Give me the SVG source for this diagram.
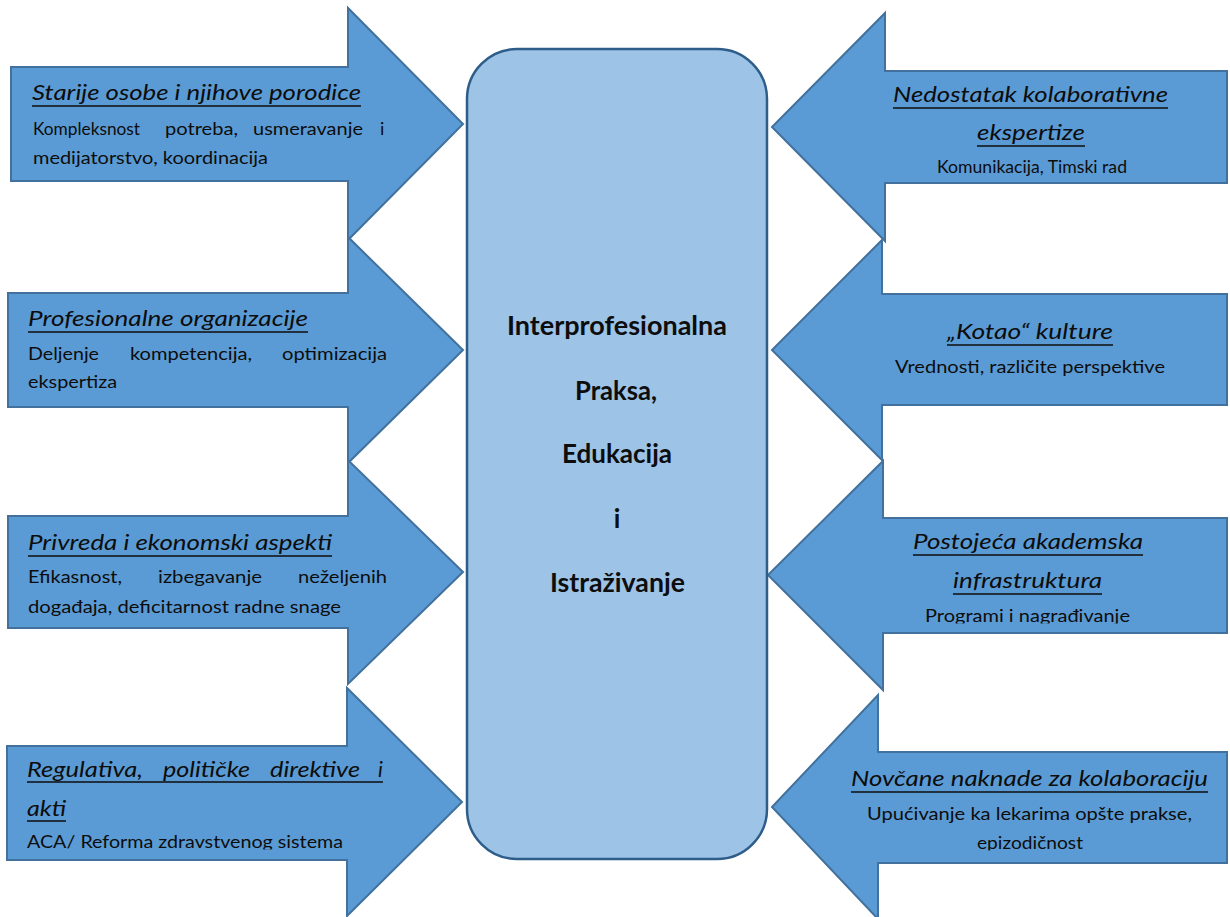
<svg xmlns="http://www.w3.org/2000/svg" width="1230" height="917" viewBox="0 0 1230 917">
<style>
.arrow{fill:#5B9BD5;stroke:#41719C;stroke-width:2;stroke-linejoin:miter}
.core{fill:#9DC3E6;stroke:#2E5D8A;stroke-width:2.5}
.t{font-family:Lato,"Liberation Sans",sans-serif;font-style:italic;font-size:21px;fill:#0D0D0D}
.b{font-family:Lato,"Liberation Sans",sans-serif;font-size:18px;fill:#0D0D0D}
.c{font-family:Lato,"Liberation Sans",sans-serif;font-weight:bold;font-size:26px;fill:#0D0D0D}
.u{stroke:#0D0D0D;stroke-width:1.5}
</style>
<defs>
<clipPath id="clipL4"><rect x="0" y="820" width="470" height="29.5"/></clipPath>
<clipPath id="clipR3"><rect x="780" y="600" width="450" height="23.5"/></clipPath>
<clipPath id="clipR4"><rect x="780" y="828" width="450" height="22.5"/></clipPath>
</defs>
<rect width="1230" height="917" fill="#FFFFFF"/>

<g id="connectors">
<polygon class="arrow" points="11,67 348,67 348,8 463,124 348,240 348,181 11,181"/>
<polygon class="arrow" points="8,293 348,293 348,237 463,350 348,463 348,407 8,407"/>
<polygon class="arrow" points="8,516 348,516 348,460 463,572 348,684 348,628 8,628"/>
<polygon class="arrow" points="7,746 347,746 347,688 462,802 347,916 347,860 7,860"/>
<polygon class="arrow" points="1227,71 885,71 885,13 772,127 885,241 885,183 1227,183"/>
<polygon class="arrow" points="1227,294 882,294 882,240 772,350 882,460 882,405 1227,405"/>
<polygon class="arrow" points="1227,518 883,518 883,461 768,575 883,690 883,633 1227,633"/>
<polygon class="arrow" points="1227,752 878,752 878,695 772,807 878,919 878,863 1227,863"/>
</g>

<g id="center">
<rect class="core" x="467" y="49" width="300" height="810" rx="50" ry="50"/>
<text class="c" x="507" y="335" textLength="220" lengthAdjust="spacingAndGlyphs">Interprofesionalna</text>
<text class="c" x="575" y="400" textLength="82" lengthAdjust="spacingAndGlyphs">Praksa,</text>
<text class="c" x="562" y="463" textLength="110" lengthAdjust="spacingAndGlyphs">Edukacija</text>
<text class="c" x="617" y="528" text-anchor="middle">i</text>
<text class="c" x="550" y="592" textLength="135" lengthAdjust="spacingAndGlyphs">Istraživanje</text>
</g>

<g id="left1">
<text class="t" x="32" y="100" textLength="329" lengthAdjust="spacingAndGlyphs">Starije osobe i njihove porodice</text>
<line class="u" x1="32" y1="106" x2="361" y2="106"/>
<text class="b" x="33" y="135" textLength="107" lengthAdjust="spacingAndGlyphs">Kompleksnost</text>
<text class="b" x="165" y="135" textLength="73" lengthAdjust="spacingAndGlyphs">potreba,</text>
<text class="b" x="253" y="135" textLength="110" lengthAdjust="spacingAndGlyphs">usmeravanje</text>
<text class="b" x="380" y="135">i</text>
<text class="b" x="33" y="164" textLength="235" lengthAdjust="spacingAndGlyphs">medijatorstvo, koordinacija</text>
</g>

<g id="left2">
<text class="t" x="28" y="326" textLength="280" lengthAdjust="spacingAndGlyphs">Profesionalne organizacije</text>
<line class="u" x1="28" y1="332" x2="308" y2="332"/>
<text class="b" x="28" y="360" textLength="71" lengthAdjust="spacingAndGlyphs">Deljenje</text>
<text class="b" x="130" y="360" textLength="122" lengthAdjust="spacingAndGlyphs">kompetencija,</text>
<text class="b" x="282" y="360" textLength="105" lengthAdjust="spacingAndGlyphs">optimizacija</text>
<text class="b" x="28" y="388" textLength="89" lengthAdjust="spacingAndGlyphs">ekspertiza</text>
</g>

<g id="left3">
<text class="t" x="28" y="550" textLength="304" lengthAdjust="spacingAndGlyphs">Privreda i ekonomski aspekti</text>
<line class="u" x1="28" y1="556" x2="332" y2="556"/>
<text class="b" x="28" y="583" textLength="94" lengthAdjust="spacingAndGlyphs">Efikasnost,</text>
<text class="b" x="158" y="583" textLength="104" lengthAdjust="spacingAndGlyphs">izbegavanje</text>
<text class="b" x="298" y="583" textLength="89" lengthAdjust="spacingAndGlyphs">neželjenih</text>
<text class="b" x="28" y="613" textLength="313" lengthAdjust="spacingAndGlyphs">događaja, deficitarnost radne snage</text>
</g>

<g id="left4">
<text class="t" x="27" y="777" textLength="116" lengthAdjust="spacingAndGlyphs">Regulativa,</text>
<text class="t" x="163" y="777" textLength="87" lengthAdjust="spacingAndGlyphs">političke</text>
<text class="t" x="270" y="777" textLength="90" lengthAdjust="spacingAndGlyphs">direktive</text>
<text class="t" x="378" y="777">i</text>
<line class="u" x1="27" y1="782" x2="383" y2="782"/>
<text class="t" x="27" y="816" textLength="39" lengthAdjust="spacingAndGlyphs">akti</text>
<line class="u" x1="27" y1="821" x2="66" y2="821"/>
<text class="b" x="27" y="848" textLength="316" lengthAdjust="spacingAndGlyphs" clip-path="url(#clipL4)">ACA/ Reforma zdravstvenog sistema</text>
</g>

<g id="right1">
<text class="t" x="893" y="102" textLength="275" lengthAdjust="spacingAndGlyphs">Nedostatak kolaborativne</text>
<line class="u" x1="893" y1="108" x2="1168" y2="108"/>
<text class="t" x="977" y="140" textLength="108" lengthAdjust="spacingAndGlyphs">ekspertize</text>
<line class="u" x1="977" y1="146" x2="1085" y2="146"/>
<text class="b" x="937" y="173" textLength="190" lengthAdjust="spacingAndGlyphs">Komunikacija, Timski rad</text>
</g>

<g id="right2">
<text class="t" x="947" y="339" textLength="166" lengthAdjust="spacingAndGlyphs">„Kotao“ kulture</text>
<line class="u" x1="947" y1="345" x2="1113" y2="345"/>
<text class="b" x="895" y="373" textLength="270" lengthAdjust="spacingAndGlyphs">Vrednosti, različite perspektive</text>
</g>

<g id="right3">
<text class="t" x="913" y="549" textLength="230" lengthAdjust="spacingAndGlyphs">Postojeća akademska</text>
<line class="u" x1="913" y1="555" x2="1143" y2="555"/>
<text class="t" x="953" y="588" textLength="149" lengthAdjust="spacingAndGlyphs">infrastruktura</text>
<line class="u" x1="953" y1="594" x2="1102" y2="594"/>
<text class="b" x="925" y="622" textLength="205" lengthAdjust="spacingAndGlyphs" clip-path="url(#clipR3)">Programi i nagrađivanje</text>
</g>

<g id="right4">
<text class="t" x="851" y="786" textLength="357" lengthAdjust="spacingAndGlyphs">Novčane naknade za kolaboraciju</text>
<line class="u" x1="851" y1="792" x2="1208" y2="792"/>
<text class="b" x="867" y="820" textLength="325" lengthAdjust="spacingAndGlyphs">Upućivanje ka lekarima opšte prakse,</text>
<text class="b" x="977" y="849" textLength="106" lengthAdjust="spacingAndGlyphs" clip-path="url(#clipR4)">epizodičnost</text>
</g>
</svg>
